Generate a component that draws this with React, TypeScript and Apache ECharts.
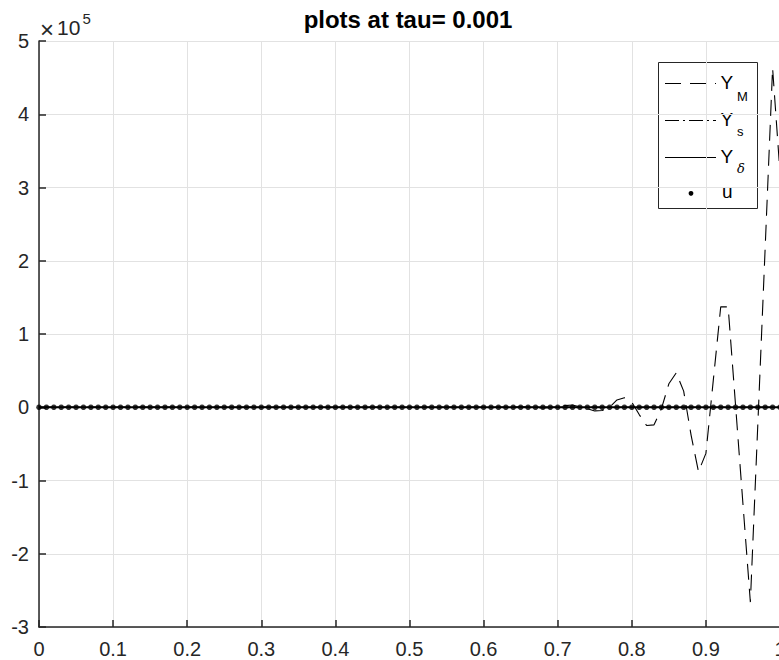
import React, { useEffect, useRef } from "react";
import * as echarts from "echarts";

// Sampling grid on [0, 1] with step 0.01
const xs: number[] = Array.from({ length: 101 }, (_, i) => +(i * 0.01).toFixed(2));

// Y_M: unstable scheme, growing oscillation near x = 1
const yM: number[] = [
  0, 0, 0, 0, 0, 0, 0, 0, 0, 0,
  0, 0, 0, 0, 0, 0, 0, 0, 0, 0,
  0, 0, 0, 0, 0, 0, 0, 0, 0, 0,
  0, 0, 0, 0, 0, 0, 0, 0, 0, 0,
  0, 0, 0, 0, 0, 0, 0, 0, 0, 0,
  0, 0, 0, 0, 0, 0, 0, 0, 0, 0,
  0, 0, 0, 0, 400, 700, 300, -500, -1100, -700,
  500, 2200, 3000, 500, -2000, -5000, -4500, 0, 10000, 13000,
  7000, -10000, -25000, -24000, -2000, 32000, 47000, 22000, -38000, -88000,
  -63000, 37000, 137000, 137000, 3000, -132000, -266000, -25000, 218000, 463000,
  320000,
];

// Y_s, Y_delta and u stay at zero on this scale
const yS: number[] = [
  0, 0, 0, 0, 0, 0, 0, 0, 0, 0, 0, 0, 0, 0, 0, 0, 0, 0, 0, 0,
  0, 0, 0, 0, 0, 0, 0, 0, 0, 0, 0, 0, 0, 0, 0, 0, 0, 0, 0, 0,
  0, 0, 0, 0, 0, 0, 0, 0, 0, 0, 0, 0, 0, 0, 0, 0, 0, 0, 0, 0,
  0, 0, 0, 0, 0, 0, 0, 0, 0, 0, 0, 0, 0, 0, 0, 0, 0, 0, 0, 0,
  0, 0, 0, 0, 0, 0, 0, 0, 0, 0, 0, 0, 0, 0, 0, 0, 0, 0, 0, 0,
  0,
];
const yDelta: number[] = [
  0, 0, 0, 0, 0, 0, 0, 0, 0, 0, 0, 0, 0, 0, 0, 0, 0, 0, 0, 0,
  0, 0, 0, 0, 0, 0, 0, 0, 0, 0, 0, 0, 0, 0, 0, 0, 0, 0, 0, 0,
  0, 0, 0, 0, 0, 0, 0, 0, 0, 0, 0, 0, 0, 0, 0, 0, 0, 0, 0, 0,
  0, 0, 0, 0, 0, 0, 0, 0, 0, 0, 0, 0, 0, 0, 0, 0, 0, 0, 0, 0,
  0, 0, 0, 0, 0, 0, 0, 0, 0, 0, 0, 0, 0, 0, 0, 0, 0, 0, 0, 0,
  0,
];
const u: number[] = [
  0, 0, 0, 0, 0, 0, 0, 0, 0, 0, 0, 0, 0, 0, 0, 0, 0, 0, 0, 0,
  0, 0, 0, 0, 0, 0, 0, 0, 0, 0, 0, 0, 0, 0, 0, 0, 0, 0, 0, 0,
  0, 0, 0, 0, 0, 0, 0, 0, 0, 0, 0, 0, 0, 0, 0, 0, 0, 0, 0, 0,
  0, 0, 0, 0, 0, 0, 0, 0, 0, 0, 0, 0, 0, 0, 0, 0, 0, 0, 0, 0,
  0, 0, 0, 0, 0, 0, 0, 0, 0, 0, 0, 0, 0, 0, 0, 0, 0, 0, 0, 0,
  0,
];

const titleText = "plots at tau= 0.001";
const yScale = 1e5;

const FONT = "'Liberation Sans', Arial, Helvetica, sans-serif";
const AX = "#262626";
const DASH_M = [16, 9];
const DASH_S = [14, 4, 2, 4];

const pairs = (ys: number[]) => xs.map((x, i) => [x, ys[i]]);

export default function App() {
  const ref = useRef<HTMLDivElement>(null);

  useEffect(() => {
    document.body.style.margin = "0";
    const chart = echarts.init(ref.current!, null, { renderer: "svg" });

    const legendRows = [
      { y: 83.5, dash: DASH_M, sub: "M", subFont: FONT, subStyle: "normal", subY: 96 },
      { y: 120.5, dash: DASH_S, sub: "s", subFont: FONT, subStyle: "normal", subY: 131 },
      { y: 157.5, dash: null, sub: "δ", subFont: "'DejaVu Serif', serif", subStyle: "italic", subY: 168 },
    ];

    const legendChildren: any[] = [
      {
        type: "rect",
        shape: { x: 658.5, y: 62.5, width: 99, height: 146 },
        style: { fill: "#fff", stroke: AX, lineWidth: 1 },
      },
    ];
    legendRows.forEach((r) => {
      legendChildren.push({
        type: "line",
        shape: { x1: 665, y1: r.y, x2: 716, y2: r.y },
        style: { stroke: "#000", lineWidth: 1.1, lineDash: r.dash || undefined },
      });
      legendChildren.push({
        type: "text",
        x: 720.5,
        y: r.y - 1,
        style: { text: "Y", fontSize: 19, fontFamily: FONT, fill: "#000", align: "left", verticalAlign: "middle" },
      });
      legendChildren.push({
        type: "text",
        x: 737,
        y: r.subY,
        style: {
          text: r.sub,
          fontSize: 13,
          fontFamily: r.subFont,
          fontStyle: r.subStyle,
          fill: "#000",
          align: "left",
          verticalAlign: "middle",
        },
      });
    });
    legendChildren.push({
      type: "circle",
      shape: { cx: 691, cy: 193.3, r: 2.4 },
      style: { fill: "#000" },
    });
    legendChildren.push({
      type: "text",
      x: 722,
      y: 191.5,
      style: { text: "u", fontSize: 19, fontFamily: FONT, fill: "#000", align: "left", verticalAlign: "middle" },
    });

    chart.setOption({
      animation: false,
      backgroundColor: "#fff",
      title: {
        text: titleText,
        left: 408,
        top: 7,
        padding: 0,
        textAlign: "center",
        textStyle: { fontSize: 24, fontWeight: "bold", fontFamily: FONT, color: "#000" },
      },
      grid: { left: 39, top: 41, width: 741, height: 586, containLabel: false, outerBoundsMode: "none" },
      xAxis: {
        type: "value",
        min: 0,
        max: 1,
        interval: 0.1,
        axisLine: { onZero: false, lineStyle: { color: AX, width: 1.5 } },
        axisTick: { inside: true, length: 7, lineStyle: { color: AX, width: 1.5 } },
        axisLabel: {
          margin: 13.5,
          fontSize: 20,
          lineHeight: 16,
          fontFamily: FONT,
          color: AX,
          formatter: (v: number) => String(+v.toFixed(1)),
        },
        splitLine: { show: true, lineStyle: { color: "#e2e2e2", width: 1 } },
      },
      yAxis: {
        type: "value",
        min: -3 * yScale,
        max: 5 * yScale,
        interval: yScale,
        axisLine: { onZero: false, lineStyle: { color: AX, width: 1.5 } },
        axisTick: { inside: true, length: 7, lineStyle: { color: AX, width: 1.5 } },
        axisLabel: {
          margin: 10,
          fontSize: 20,
          fontFamily: FONT,
          color: AX,
          formatter: (v: number) => String(Math.round(v / yScale)),
        },
        splitLine: { show: true, lineStyle: { color: "#e2e2e2", width: 1 } },
      },
      series: [
        {
          name: "Y_M",
          type: "line",
          data: pairs(yM),
          symbol: "none",
          lineStyle: { color: "#000", width: 1.1, type: DASH_M },
          z: 3,
        },
        {
          name: "Y_s",
          type: "line",
          data: pairs(yS),
          symbol: "none",
          lineStyle: { color: "#000", width: 1.1, type: DASH_S },
          z: 4,
        },
        {
          name: "Y_δ",
          type: "line",
          data: pairs(yDelta),
          symbol: "none",
          lineStyle: { color: "#000", width: 2 },
          z: 5,
        },
        {
          name: "u",
          type: "scatter",
          data: pairs(u),
          symbol: "circle",
          symbolSize: 5.5,
          itemStyle: { color: "#000" },
          z: 6,
        },
      ],
      graphic: [
        {
          type: "text",
          x: 40,
          y: 29,
          style: { text: "×", fontSize: 24, fontFamily: FONT, fill: AX, align: "left", verticalAlign: "middle" },
        },
        {
          type: "text",
          x: 57,
          y: 27.5,
          style: { text: "10", fontSize: 21, fontFamily: FONT, fill: AX, align: "left", verticalAlign: "middle" },
        },
        {
          type: "text",
          x: 82.5,
          y: 18,
          style: { text: "5", fontSize: 15, fontFamily: FONT, fill: AX, align: "left", verticalAlign: "middle" },
        },
        { type: "group", z: 100, children: legendChildren },
      ],
    });

    return () => chart.dispose();
  }, []);

  return <div ref={ref} style={{ width: 779, height: 660 }} />;
}
